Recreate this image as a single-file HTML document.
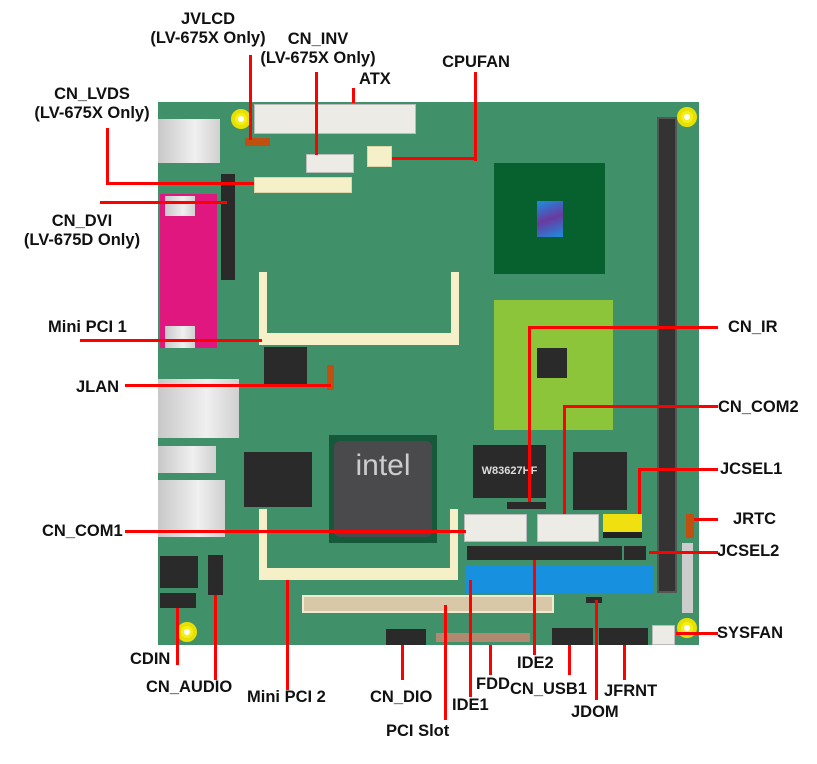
<!DOCTYPE html>
<html><head><meta charset="utf-8"><style>
body{margin:0;width:817px;height:764px;background:#fff;position:relative;overflow:hidden;font-family:"Liberation Sans",Arial,sans-serif}
div{position:absolute;box-sizing:border-box}
.r{background:#f00}
.t{font-weight:bold;font-size:16.5px;line-height:19px;color:#111;white-space:nowrap}
.c{text-align:center}
.h{border-radius:50%;background:#f2ef1a;border:4px solid #e8e000}
.h::after{content:"";position:absolute;left:3px;top:3px;width:6px;height:6px;border-radius:50%;background:#fff}
.blk{background:#2a2a2a}
.g{background:linear-gradient(90deg,#c8c8c8,#f0f0f0 60%,#d0d0d0)}
.w{background:#ecebe6;border:1px solid #bbb}
.cr{background:#f5f0c8;border:1px solid #ddd6a8}
</style></head><body>
<div style="left:158px;top:102px;width:541px;height:543px;background:#40916a"></div>
<div class="h" style="left:231px;top:109px;width:20px;height:20px"></div>
<div class="h" style="left:677px;top:107px;width:20px;height:20px"></div>
<div class="h" style="left:177px;top:622px;width:20px;height:20px"></div>
<div class="h" style="left:677px;top:618px;width:20px;height:20px"></div>
<div class="g" style="left:158px;top:119px;width:62px;height:44px"></div>
<div style="left:160px;top:194px;width:57px;height:154px;background:#e0177e"></div>
<div class="g" style="left:165px;top:196px;width:30px;height:20px"></div>
<div class="g" style="left:165px;top:326px;width:30px;height:22px"></div>
<div class="g" style="left:158px;top:379px;width:81px;height:59px"></div>
<div class="g" style="left:158px;top:446px;width:58px;height:27px"></div>
<div class="g" style="left:158px;top:480px;width:67px;height:57px"></div>
<div class="blk" style="left:221px;top:174px;width:14px;height:106px"></div>
<div class="w" style="left:254px;top:104px;width:162px;height:30px"></div>
<div style="left:245px;top:138px;width:25px;height:8px;background:#c05010"></div>
<div class="w" style="left:306px;top:154px;width:48px;height:19px"></div>
<div class="cr" style="left:367px;top:146px;width:25px;height:21px"></div>
<div class="cr" style="left:254px;top:177px;width:98px;height:16px"></div>
<div style="left:494px;top:163px;width:111px;height:111px;background:#06612e"></div>
<div style="left:537px;top:201px;width:26px;height:36px;background:linear-gradient(160deg,#1a8ee0,#6a3aa0,#1a8ee0)"></div>
<div style="left:494px;top:300px;width:119px;height:130px;background:#8cc43a"></div>
<div class="blk" style="left:537px;top:348px;width:30px;height:30px"></div>
<div style="left:657px;top:117px;width:20px;height:476px;background:#333;border:2px solid #555"></div>
<div style="left:259px;top:272px;width:200px;height:73px;border:8px solid #f5f0c8;border-top:none;border-bottom-width:12px"></div>
<div style="left:259px;top:509px;width:199px;height:71px;border:8px solid #f5f0c8;border-top:none;border-bottom-width:12px"></div>
<div class="blk" style="left:264px;top:347px;width:43px;height:38px"></div>
<div style="left:327px;top:365px;width:7px;height:25px;background:#c05010"></div>
<div class="blk" style="left:244px;top:452px;width:68px;height:55px"></div>
<div style="left:329px;top:435px;width:108px;height:108px;background:#15583a"></div>
<div style="left:334px;top:441px;width:98px;height:96px;background:#4a4a4c;border-radius:6px;color:#ccc;font-size:30px;text-align:center;line-height:50px">intel</div>
<div class="blk" style="left:473px;top:445px;width:73px;height:53px;color:#ddd;font-size:11px;font-weight:bold;line-height:53px;text-align:center">W83627HF</div>
<div class="blk" style="left:573px;top:452px;width:54px;height:58px"></div>
<div class="blk" style="left:507px;top:502px;width:39px;height:7px"></div>
<div class="w" style="left:464px;top:514px;width:63px;height:28px"></div>
<div class="w" style="left:537px;top:514px;width:62px;height:28px"></div>
<div style="left:603px;top:514px;width:39px;height:24px;background:#f0e010;border-bottom:6px solid #222"></div>
<div class="blk" style="left:467px;top:546px;width:155px;height:14px"></div>
<div class="blk" style="left:624px;top:546px;width:22px;height:14px"></div>
<div style="left:465px;top:565px;width:188px;height:28px;background:#1890e0"></div>
<div style="left:302px;top:595px;width:252px;height:18px;background:#d8c8a8;border:2px solid #f0ead0"></div>
<div style="left:436px;top:633px;width:94px;height:9px;background:#b08a70"></div>
<div class="blk" style="left:386px;top:629px;width:40px;height:16px"></div>
<div class="blk" style="left:552px;top:628px;width:41px;height:17px"></div>
<div class="blk" style="left:599px;top:628px;width:49px;height:17px"></div>
<div class="w" style="left:652px;top:625px;width:23px;height:20px"></div>
<div class="blk" style="left:586px;top:597px;width:16px;height:6px"></div>
<div class="blk" style="left:160px;top:556px;width:38px;height:32px"></div>
<div class="blk" style="left:160px;top:593px;width:36px;height:15px"></div>
<div class="blk" style="left:208px;top:555px;width:15px;height:40px"></div>
<div style="left:686px;top:514px;width:8px;height:24px;background:#c05010"></div>
<div style="left:682px;top:543px;width:11px;height:70px;background:#ccc"></div>
<div class="r" style="left:249px;top:55px;width:3px;height:85px"></div>
<div class="r" style="left:315px;top:72px;width:3px;height:83px"></div>
<div class="r" style="left:352px;top:88px;width:3px;height:15px"></div>
<div class="r" style="left:474px;top:72px;width:3px;height:89px"></div>
<div class="r" style="left:392px;top:157px;width:85px;height:3px"></div>
<div class="r" style="left:106px;top:128px;width:3px;height:57px"></div>
<div class="r" style="left:106px;top:182px;width:148px;height:3px"></div>
<div class="r" style="left:100px;top:201px;width:127px;height:3px"></div>
<div class="r" style="left:80px;top:339px;width:182px;height:3px"></div>
<div class="r" style="left:125px;top:384px;width:206px;height:3px"></div>
<div class="r" style="left:528px;top:326px;width:190px;height:3px"></div>
<div class="r" style="left:528px;top:326px;width:3px;height:176px"></div>
<div class="r" style="left:563px;top:405px;width:155px;height:3px"></div>
<div class="r" style="left:563px;top:405px;width:3px;height:109px"></div>
<div class="r" style="left:638px;top:468px;width:80px;height:3px"></div>
<div class="r" style="left:638px;top:468px;width:3px;height:46px"></div>
<div class="r" style="left:694px;top:518px;width:24px;height:3px"></div>
<div class="r" style="left:125px;top:530px;width:341px;height:3px"></div>
<div class="r" style="left:649px;top:551px;width:69px;height:3px"></div>
<div class="r" style="left:676px;top:632px;width:42px;height:3px"></div>
<div class="r" style="left:176px;top:608px;width:3px;height:57px"></div>
<div class="r" style="left:214px;top:595px;width:3px;height:85px"></div>
<div class="r" style="left:286px;top:580px;width:3px;height:110px"></div>
<div class="r" style="left:401px;top:645px;width:3px;height:35px"></div>
<div class="r" style="left:444px;top:605px;width:3px;height:115px"></div>
<div class="r" style="left:469px;top:580px;width:3px;height:117px"></div>
<div class="r" style="left:489px;top:645px;width:3px;height:30px"></div>
<div class="r" style="left:533px;top:560px;width:3px;height:95px"></div>
<div class="r" style="left:568px;top:645px;width:3px;height:30px"></div>
<div class="r" style="left:595px;top:600px;width:3px;height:100px"></div>
<div class="r" style="left:623px;top:645px;width:3px;height:35px"></div>
<div class="t c" style="left:128px;top:10px;width:160px">JVLCD<br>(LV-675X Only)</div>
<div class="t c" style="left:238px;top:30px;width:160px">CN_INV<br>(LV-675X Only)</div>
<div class="t" style="left:359px;top:70px">ATX</div>
<div class="t c" style="left:426px;top:53px;width:100px">CPUFAN</div>
<div class="t c" style="left:12px;top:85px;width:160px">CN_LVDS<br>(LV-675X Only)</div>
<div class="t c" style="left:2px;top:212px;width:160px">CN_DVI<br>(LV-675D Only)</div>
<div class="t" style="left:48px;top:318px">Mini PCI 1</div>
<div class="t" style="left:76px;top:378px">JLAN</div>
<div class="t" style="left:728px;top:318px">CN_IR</div>
<div class="t" style="left:718px;top:398px">CN_COM2</div>
<div class="t" style="left:720px;top:460px">JCSEL1</div>
<div class="t" style="left:733px;top:510px">JRTC</div>
<div class="t" style="left:42px;top:522px">CN_COM1</div>
<div class="t" style="left:717px;top:542px">JCSEL2</div>
<div class="t" style="left:717px;top:624px">SYSFAN</div>
<div class="t" style="left:130px;top:650px">CDIN</div>
<div class="t" style="left:146px;top:678px">CN_AUDIO</div>
<div class="t" style="left:247px;top:688px">Mini PCI 2</div>
<div class="t" style="left:370px;top:688px">CN_DIO</div>
<div class="t" style="left:386px;top:722px">PCI Slot</div>
<div class="t" style="left:452px;top:696px">IDE1</div>
<div class="t" style="left:476px;top:675px">FDD</div>
<div class="t" style="left:517px;top:654px">IDE2</div>
<div class="t" style="left:510px;top:680px">CN_USB1</div>
<div class="t" style="left:571px;top:703px">JDOM</div>
<div class="t" style="left:604px;top:682px">JFRNT</div>
</body></html>
